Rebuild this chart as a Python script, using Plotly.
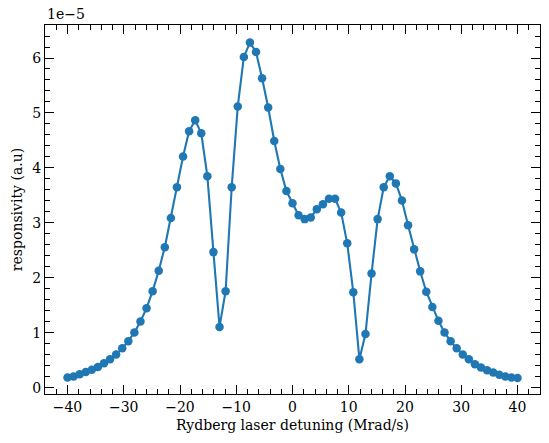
import numpy as np
import plotly.graph_objects as go

# detuning axis: 75 evenly spaced points from -40 to 40 Mrad/s
detuning = np.linspace(-40, 40, 75)

# responsivity, in units of 1e-5 (a.u)
responsivity = [
    0.19, 0.21, 0.25, 0.29, 0.33, 0.38, 0.45, 0.52, 0.61, 0.72,
    0.85, 1.01, 1.21, 1.45, 1.76, 2.13, 2.56, 3.09, 3.65, 4.21,
    4.67, 4.87, 4.63, 3.85, 2.47, 1.11, 1.76, 3.65, 5.12, 6.02,
    6.28, 6.11, 5.63, 5.10, 4.49, 3.98, 3.58, 3.36, 3.14, 3.07,
    3.10, 3.25, 3.34, 3.44, 3.44, 3.19, 2.63, 1.74, 0.52, 0.98,
    2.08, 3.07, 3.65, 3.85, 3.72, 3.41, 2.96, 2.52, 2.12, 1.75,
    1.47, 1.22, 1.01, 0.85, 0.72, 0.61, 0.52, 0.43, 0.37, 0.32,
    0.28, 0.24, 0.21, 0.19, 0.18,
]

x_ticks = [-40, -30, -20, -10, 0, 10, 20, 30, 40]
y_ticks = [0, 1, 2, 3, 4, 5, 6]

FONT = "DejaVu Serif"
BLUE = "#1f77b4"

fig = go.Figure()
fig.add_trace(go.Scatter(
    x=detuning, y=responsivity, mode="lines+markers",
    line=dict(color=BLUE, width=2.1),
    marker=dict(color=BLUE, size=8.5),
    showlegend=False,
))

axis_common = dict(
    showgrid=False, zeroline=False, showline=True, linecolor="black",
    linewidth=1.1, mirror="ticks", ticks="inside", ticklen=9, tickwidth=1.1,
    tickcolor="black", tickfont=dict(family=FONT, size=14, color="black"),
    automargin=False,
)

fig.update_xaxes(
    range=[-44, 44], tickvals=x_ticks,
    ticktext=[str(v).replace("-", "\u2212") for v in x_ticks],
    minor=dict(ticks="inside", dtick=2, tick0=0, ticklen=5, tickwidth=1.1, tickcolor="black"),
    title=dict(text="Rydberg laser detuning (Mrad/s)", font=dict(family=FONT, size=14, color="black"), standoff=6),
    **axis_common,
)
fig.update_yaxes(
    range=[-0.11, 6.6], tickvals=y_ticks,
    minor=dict(ticks="inside", dtick=0.2, tick0=0, ticklen=5, tickwidth=1.1, tickcolor="black"),
    title=dict(text="responsivity (a.u)", font=dict(family=FONT, size=14, color="black"), standoff=6),
    **axis_common,
)

fig.add_annotation(
    text="1e\u22125", xref="paper", yref="paper", x=0, y=1,
    xanchor="left", yanchor="bottom", showarrow=False, yshift=1,
    font=dict(family=FONT, size=14, color="black"),
)

fig.update_layout(
    width=549, height=443,
    margin=dict(l=45, r=9, t=25, b=49),
    paper_bgcolor="white", plot_bgcolor="white",
)

# drop the page's default body margin so the figure sits at the window corner
fig.write_html(
    "out.html",
    config={"displayModeBar": False},
    post_script="document.body.style.margin='0';document.body.style.overflow='hidden';",
)
